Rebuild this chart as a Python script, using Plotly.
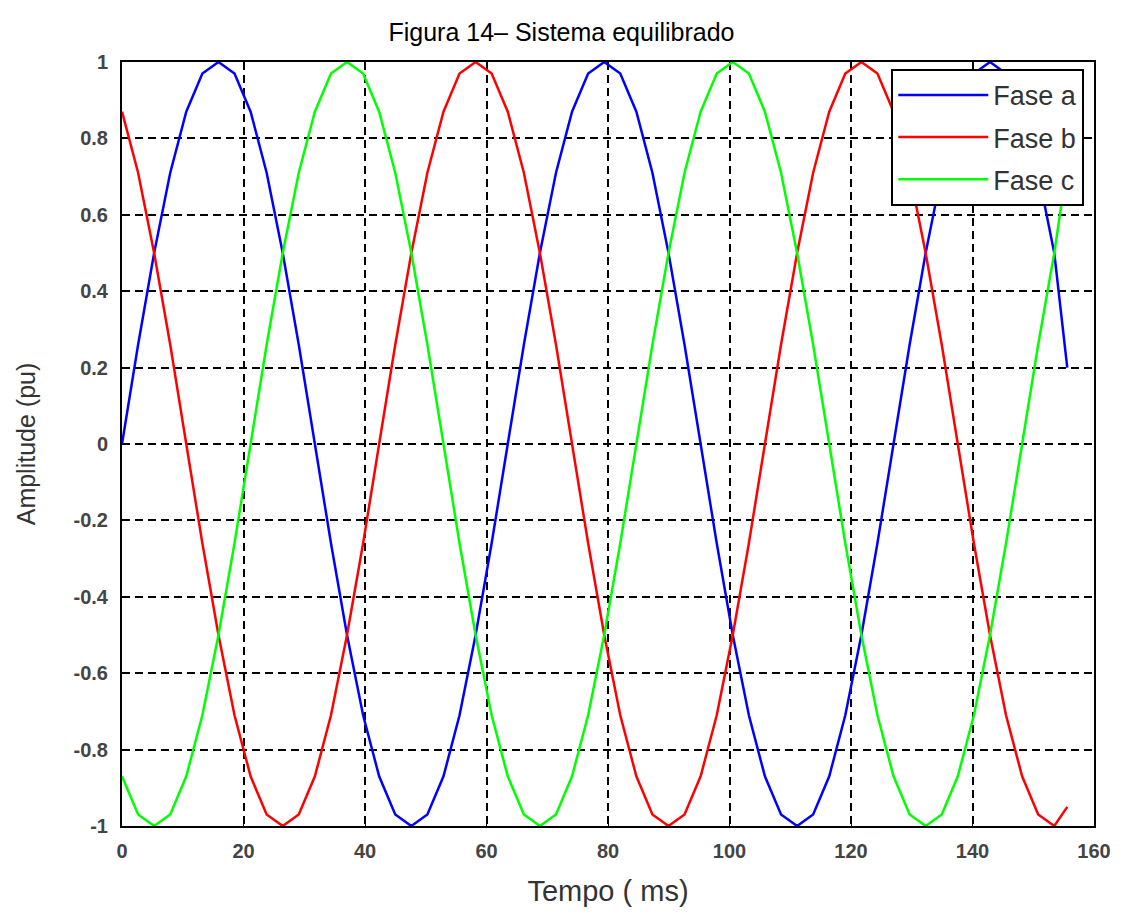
import plotly.graph_objects as go

tempo = [0, 2.65, 5.29, 7.94, 10.58, 13.23, 15.88, 18.52, 21.17, 23.81, 26.46, 29.1,
         31.75, 34.4, 37.04, 39.69, 42.33, 44.98, 47.63, 50.27, 52.92, 55.56, 58.21, 60.85,
         63.5, 66.15, 68.79, 71.44, 74.08, 76.73, 79.38, 82.02, 84.67, 87.31, 89.96, 92.6,
         95.25, 97.9, 100.54, 103.19, 105.83, 108.48, 111.13, 113.77, 116.42, 119.06, 121.71, 124.35,
         127.0, 129.65, 132.29, 134.94, 137.58, 140.23, 142.88, 145.52, 148.17, 150.81, 153.46, 155.6]

fase_a = [0, .26, .5, .71, .87, .97, 1, .97, .87, .71, .5, .26, 0, -.26, -.5, -.71, -.87, -.97, -1, -.97, -.87, -.71, -.5, -.26,
          0, .26, .5, .71, .87, .97, 1, .97, .87, .71, .5, .26, 0, -.26, -.5, -.71, -.87, -.97, -1, -.97, -.87, -.71, -.5, -.26,
          0, .26, .5, .71, .87, .97, 1, .97, .87, .71, .5, .2]

fase_b = [.87, .71, .5, .26, 0, -.26, -.5, -.71, -.87, -.97, -1, -.97, -.87, -.71, -.5, -.26,
          0, .26, .5, .71, .87, .97, 1, .97, .87, .71, .5, .26, 0, -.26, -.5, -.71, -.87, -.97, -1, -.97, -.87, -.71, -.5, -.26,
          0, .26, .5, .71, .87, .97, 1, .97, .87, .71, .5, .26, 0, -.26, -.5, -.71, -.87, -.97, -1,
          -.95]

fase_c = [-.87, -.97, -1, -.97, -.87, -.71, -.5, -.26,
          0, .26, .5, .71, .87, .97, 1, .97, .87, .71, .5, .26, 0, -.26, -.5, -.71, -.87, -.97, -1, -.97, -.87, -.71, -.5, -.26,
          0, .26, .5, .71, .87, .97, 1, .97, .87, .71, .5, .26, 0, -.26, -.5, -.71, -.87, -.97, -1, -.97, -.87, -.71, -.5, -.26,
          0, .26, .5,
          .73]

series = [("Fase a", fase_a, "#0000ff"), ("Fase b", fase_b, "#ff0000"), ("Fase c", fase_c, "#00ff00")]

x_ticks = [0, 20, 40, 60, 80, 100, 120, 140, 160]
y_ticks = [-1, -0.8, -0.6, -0.4, -0.2, 0, 0.2, 0.4, 0.6, 0.8, 1]
y_labels = ["-1", "-0.8", "-0.6", "-0.4", "-0.2", "0", "0.2", "0.4", "0.6", "0.8", "1"]

fig = go.Figure()
for name, vals, col in series:
    fig.add_trace(go.Scatter(x=tempo, y=vals, mode="lines", name=name, legendgroup=name,
                             line=dict(color=col, width=2.5), cliponaxis=True))

tickfont = dict(family="Arial", size=20, color="#444444", weight="bold")
axis_common = dict(showgrid=True, gridcolor="black", gridwidth=2, griddash="8px,5px",
                   showline=True, linecolor="black", linewidth=2, mirror=True,
                   ticks="inside", ticklen=6, tickcolor="black", zeroline=False,
                   tickfont=tickfont)

fig.update_layout(
    width=1123, height=918,
    margin=dict(l=122, r=26, t=62, b=92),
    paper_bgcolor="white", plot_bgcolor="white",
    title=dict(text="Figura 14– Sistema equilibrado", x=0.5, xanchor="center",
               y=1 - 32 / 918, yanchor="middle", yref="container",
               font=dict(family="Arial", size=25, color="black")),
    xaxis=dict(range=[0, 160], tickvals=x_ticks, ticktext=[str(v) for v in x_ticks],
               ticklabelstandoff=6,
               title=dict(text="Tempo ( ms)", standoff=20,
                          font=dict(family="Arial", size=29, color="#333333")),
               **axis_common),
    yaxis=dict(range=[-1, 1], tickvals=y_ticks, ticktext=y_labels,
               ticklabelstandoff=8,
               title=dict(text="Amplitude (pu)", standoff=31,
                          font=dict(family="Arial", size=25, color="#333333")),
               **axis_common),
    legend=dict(x=0.99, xanchor="right", y=0.991, yanchor="top",
                bgcolor="white", bordercolor="black", borderwidth=2,
                font=dict(family="Arial", size=27, color="#333333"),
                tracegroupgap=4, itemwidth=90),
    showlegend=True,
)

fig.write_html("out.html")
